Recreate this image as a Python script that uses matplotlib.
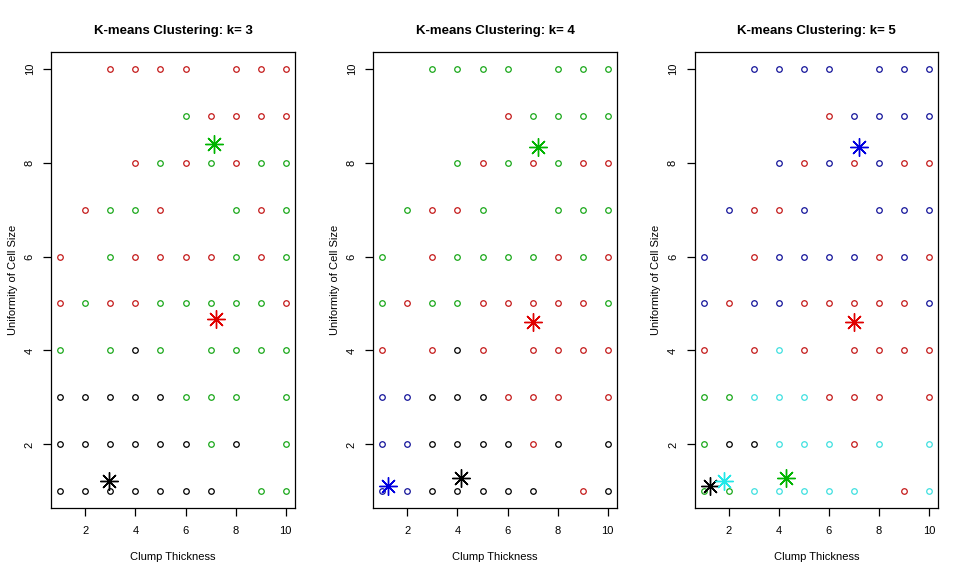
import numpy as np
import matplotlib.pyplot as plt

plt.rcParams['font.family'] = ['Liberation Sans', 'DejaVu Sans']

# cluster label per grid cell, rows from Uniformity = 10 down to 1,
# columns Clump Thickness = 1..10 ('.' = no point)
grid_k3 = ["..RRRR.RRR",
           ".....GRRRR",
           "...RGRGRGG",
           ".RGGR..GRG",
           "R.GRRRRGRG",
           "RGRRGGGGGR",
           "G.GKG.GGGG",
           "KKKKKGGG.G",
           "KKKKKKGK.G",
           "KKKKKKK.GG"]
grid_k4 = ["..GGGG.GGG",
           ".....RGGGG",
           "...GRGRGRR",
           ".GRRG..GGG",
           "G.RGGGGRGR",
           "GRGGRRRRRG",
           "R.RKR.RRRR",
           "BBKKKRRR.R",
           "BBKKKKRK.K",
           "BBKKKKK.RK"]
grid_k5 = ["..BBBB.BBB",
           ".....RBBBB",
           "...BRBRBRR",
           ".BRRB..BBB",
           "B.RBBBBRBR",
           "BRBBRRRRRB",
           "R.RCR.RRRR",
           "GGCCCRRR.R",
           "GKKCCCRC.C",
           "GGCCCCC.RC"]

# cluster centres (label, clump thickness, uniformity of cell size)
centers_k3 = [("K", 2.93, 1.23), ("G", 7.12, 8.39), ("R", 7.2, 4.67)]
centers_k4 = [("B", 1.24, 1.12), ("K", 4.14, 1.29), ("G", 7.2, 8.33), ("R", 7.0, 4.61)]
centers_k5 = [("K", 1.24, 1.11), ("C", 1.8, 1.23), ("G", 4.27, 1.28),
              ("B", 7.22, 8.33), ("R", 7.0, 4.61)]

point_col = {"K": "black", "R": "#c41a1a", "G": "#1aa81a", "B": "#14149a", "C": "#3fe0e0"}
star_col = {"K": "black", "R": "#e00000", "G": "#00b400", "B": "#0000e0", "C": "#22e8e8"}

panels = [(3, grid_k3, centers_k3), (4, grid_k4, centers_k4), (5, grid_k5, centers_k5)]
lefts = [0.0532, 0.3873, 0.7206]

fig = plt.figure(figsize=(9.64, 5.73), dpi=100)
fig.set_facecolor('white')

for (k, grid, centers), left in zip(panels, lefts):
    ax = fig.add_axes([left, 0.1129, 0.2525, 0.7969])
    for i, row in enumerate(grid):
        y = 10 - i
        for j, c in enumerate(row):
            if c == '.':
                continue
            ax.plot(j + 1, y, 'o', mfc='none', mec=point_col[c], ms=4, mew=0.9)
    for c, cx, cy in centers:
        ax.plot(cx, cy, marker=(8, 2, 0), color=star_col[c], ms=13, mew=1.0, ls='none')
    ax.set_xlim(0.64, 10.36)
    ax.set_ylim(0.64, 10.36)
    ax.set_xticks([2, 4, 6, 8, 10])
    ax.set_yticks([2, 4, 6, 8, 10])
    ax.tick_params(length=6, width=0.9, labelsize=8)
    ax.tick_params(axis='x', pad=7)
    ax.tick_params(axis='y', pad=6)
    for lab in ax.get_yticklabels():
        lab.set_rotation(90)
        lab.set_va('center')
    for s in ax.spines.values():
        s.set_linewidth(0.9)
    ax.set_title("K-means Clustering: k= %d" % k, fontsize=9.5, fontweight='bold', pad=13)
    ax.set_xlabel("Clump Thickness", fontsize=8, labelpad=11)
    ax.set_ylabel("Uniformity of Cell Size", fontsize=8, labelpad=5)

fig.savefig("out.png", dpi=100)
